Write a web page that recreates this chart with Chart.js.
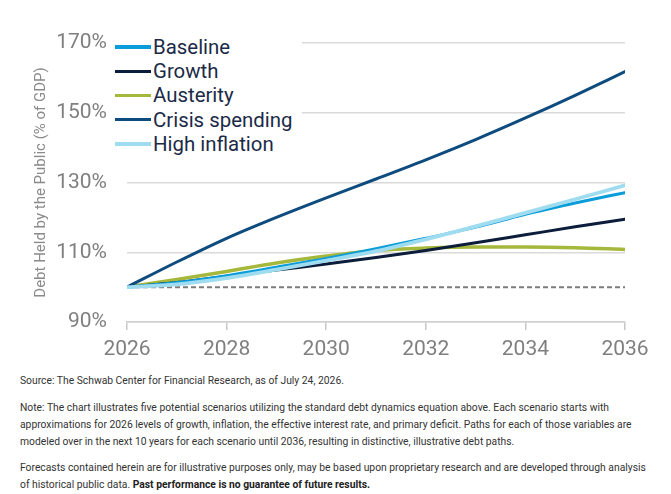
<!DOCTYPE html>
<html><head><meta charset="utf-8">
<script src="https://cdn.jsdelivr.net/npm/chart.js@4.4.1/dist/chart.umd.min.js"></script>
<style>
html,body{margin:0;padding:0;background:#fff;}
body{width:671px;height:494px;position:relative;overflow:hidden;font-family:Roboto,sans-serif;}
#wrap{position:absolute;left:0;top:0;width:671px;height:370px;}
#legend{position:absolute;left:112px;top:34px;width:190px;background:#fff;padding-top:1px;}
.row{display:flex;align-items:center;height:24.2px;}
.sw{width:36px;height:3.5px;margin-left:3px;margin-right:2px;flex:none;}
.lbl{font-size:20.4px;color:#1b2a47;line-height:24px;white-space:nowrap;}
#notes{position:absolute;left:20px;top:372px;font-family:Roboto,sans-serif;font-size:11px;color:#333;line-height:17px;white-space:nowrap;transform-origin:0 0;}
#notes p{margin:0;}
#notes b{font-weight:bold;color:#222;}
</style>
</head><body>
<div id="wrap"><canvas id="c"></canvas></div>
<div id="legend"></div>
<div id="notes">
<p style="margin-bottom:10px">Source: The Schwab Center for Financial Research, as of July 24, 2026.</p>
<p style="margin-bottom:9px"><span id="ref1">Note: The chart illustrates five potential scenarios utilizing the standard debt dynamics equation above. Each scenario starts with</span><br>approximations for 2026 levels of growth, inflation, the effective interest rate, and primary deficit. Paths for each of those variables are<br>modeled over in the next 10 years for each scenario until 2036, resulting in distinctive, illustrative debt paths.</p>
<p>Forecasts contained herein are for illustrative purposes only, may be based upon proprietary research and are developed through analysis<br>of historical public data. <b>Past performance is no guarantee of future results.</b></p>
</div>
<script>
const years = [2026, 2027, 2028, 2029, 2030, 2031, 2032, 2033, 2034, 2035, 2036];
const baseline = [100, 101.3, 103.3, 105.7, 108.2, 111.0, 114.0, 117.2, 120.9, 124.1, 127.1];
const growth = [100, 101.3, 103.1, 104.9, 106.6, 108.5, 110.5, 112.7, 115.0, 117.3, 119.5];
const austerity = [100, 102.2, 104.5, 106.9, 108.9, 110.5, 111.2, 111.5, 111.5, 111.3, 110.8];
const crisisSpending = [100, 107.2, 114.0, 120.0, 125.6, 131.0, 136.5, 142.3, 148.5, 155.0, 161.8];
const highInflation = [100, 100.8, 102.6, 105.0, 107.6, 110.3, 113.7, 117.4, 121.3, 125.2, 129.2];
const referenceYears = [2026, 2036];
const referenceLevel = [100, 100];
const yTicks = [90, 110, 130, 150, 170];
const xTicks = [2026, 2028, 2030, 2032, 2034, 2036];

const seriesNames = ['Baseline', 'Growth', 'Austerity', 'Crisis spending', 'High inflation'];
const seriesValues = [baseline, growth, austerity, crisisSpending, highInflation];
const seriesColors = ['#0b9cda', '#0c1c3b', '#a6b83b', '#0e4b7e', '#a0dcf0'];
const seriesWidths = [3, 3, 3.5, 3, 3.8];
const seriesOrder = [2, 3, 4, 1, 0];

const toXY = (xs, ys) => xs.map((x, i) => ({x: x, y: ys[i]}));

const datasets = seriesNames.map((n, i) => ({
  label: n,
  data: toXY(years, seriesValues[i]),
  borderColor: seriesColors[i],
  backgroundColor: seriesColors[i],
  borderWidth: seriesWidths[i],
  pointRadius: 0,
  cubicInterpolationMode: 'monotone',
  borderCapStyle: 'round',
  fill: false,
  order: seriesOrder[i]
}));
datasets.push({
  label: 'ref',
  data: toXY(referenceYears, referenceLevel),
  borderColor: '#7b7b7b',
  borderWidth: 2,
  borderDash: [5, 3],
  pointRadius: 0,
  fill: false,
  order: 10
});

const lg = document.getElementById('legend');
seriesNames.forEach((n, i) => {
  const r = document.createElement('div'); r.className = 'row';
  const s = document.createElement('span'); s.className = 'sw'; s.style.background = seriesColors[i];
  const t = document.createElement('span'); t.className = 'lbl'; t.textContent = n;
  r.appendChild(s); r.appendChild(t); lg.appendChild(r);
});

// fit the footnote to the reference line length (first note line spans ~589px)
const notes = document.getElementById('notes');
const w1 = document.getElementById('ref1').getBoundingClientRect().width;
if (w1 > 0) notes.style.transform = 'scaleX(' + (589 / w1) + ')';

new Chart(document.getElementById('c'), {
  type: 'line',
  data: {datasets: datasets},
  options: {
    responsive: true,
    maintainAspectRatio: false,
    animation: false,
    layout: {padding: {top: 43, right: 46, left: 0, bottom: 0}},
    plugins: {legend: {display: false}, tooltip: {enabled: false}},
    scales: {
      x: {
        type: 'linear', min: 2026, max: 2036,
        afterBuildTicks: s => { s.ticks = xTicks.map(v => ({value: v})); },
        afterFit: s => { s.height = 48; },
        grid: {drawOnChartArea: false, drawTicks: true, tickLength: 8, color: '#c8c8c8', lineWidth: 1.5},
        border: {display: true, color: '#d0d0d0', width: 1.5},
        ticks: {color: '#7f7f7f', font: {family: 'Roboto', size: 21}, padding: 7, callback: v => String(v), maxRotation: 0}
      },
      y: {
        min: 90, max: 170,
        afterBuildTicks: s => { s.ticks = yTicks.map(v => ({value: v})); },
        afterFit: s => { s.width = 127; },
        grid: {drawTicks: false, color: '#dadada', lineWidth: 1.5},
        border: {display: false},
        ticks: {color: '#7f7f7f', font: {family: 'Roboto', size: 21}, padding: 20, callback: v => v + '%'},
        title: {display: true, text: 'Debt Held by the Public (% of GDP)', color: '#8a8a8a', font: {family: 'Roboto', size: 15}, padding: {top: 32, bottom: 0}}
      }
    }
  }
});
</script>
</body></html>
